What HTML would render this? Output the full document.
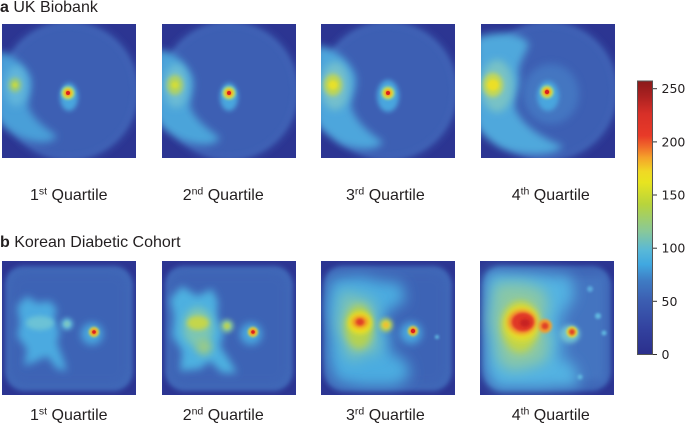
<!DOCTYPE html>
<html><head><meta charset="utf-8"><style>
html,body{margin:0;padding:0;background:#fff;width:685px;height:423px;overflow:hidden}
svg{display:block}
.t{font-family:"Liberation Sans",Arial,sans-serif;fill:#231f20}
.c{font-family:"DejaVu Sans","Liberation Sans",sans-serif;fill:#231f20;font-size:12.5px}
</style></head><body>
<svg width="685" height="423" viewBox="0 0 685 423" xmlns="http://www.w3.org/2000/svg">
<defs>
<clipPath id="cp"><rect width="134" height="134"/></clipPath>
<filter id="f1" x="-50%" y="-50%" width="200%" height="200%"><feGaussianBlur stdDeviation="1.2"/></filter>
<filter id="f2" x="-50%" y="-50%" width="200%" height="200%"><feGaussianBlur stdDeviation="2.5"/></filter>
<filter id="f3" x="-50%" y="-50%" width="200%" height="200%"><feGaussianBlur stdDeviation="4"/></filter>
<filter id="f4" x="-50%" y="-50%" width="200%" height="200%"><feGaussianBlur stdDeviation="7"/></filter>
<linearGradient id="cb" x1="0" y1="0" x2="0" y2="1">
<stop offset="0" stop-color="#8b1a1a"/><stop offset="0.05" stop-color="#a82020"/>
<stop offset="0.12" stop-color="#d83028"/><stop offset="0.2" stop-color="#e83a28"/>
<stop offset="0.24" stop-color="#f06a2a"/><stop offset="0.28" stop-color="#f5a22a"/>
<stop offset="0.33" stop-color="#f0d825"/><stop offset="0.37" stop-color="#e8e420"/>
<stop offset="0.45" stop-color="#b8d43c"/><stop offset="0.55" stop-color="#88c89a"/>
<stop offset="0.62" stop-color="#58b8d8"/><stop offset="0.67" stop-color="#40a8e0"/>
<stop offset="0.73" stop-color="#3f7cc4"/><stop offset="0.8" stop-color="#3c5fb2"/>
<stop offset="0.9" stop-color="#3343a0"/><stop offset="1" stop-color="#2b2f8c"/>
</linearGradient>
<g id="bgA">
<rect width="134" height="134" fill="#2c3592"/>
<circle cx="67" cy="67" r="70" fill="#3c5eb3" filter="url(#f3)"/>
<circle cx="67" cy="67" r="66" fill="none" stroke="#4670bf" stroke-width="4" opacity="0.45" filter="url(#f2)"/>
</g>
<g id="bgB">
<rect width="134" height="134" fill="#2c3592"/>
<path d="M20,5 H114 Q128,7 131,22 V112 Q129,127 114,130 H20 Q5,127 3,112 V22 Q5,7 20,5 Z" fill="#4068b8" filter="url(#f2)"/>
<path d="M22,12 H112 Q123,14 125,25 V109 Q123,121 112,123 H22 Q11,121 9,109 V25 Q11,14 22,12 Z" fill="#3c62b4" opacity="0.7" filter="url(#f3)"/>
</g>
</defs>

<text class="t" x="0" y="12" font-size="16"><tspan font-weight="bold">a</tspan> UK Biobank</text>
<text class="t" x="0" y="247" font-size="16"><tspan font-weight="bold">b</tspan> Korean Diabetic Cohort</text>

<!-- a1 -->
<g transform="translate(2,24)" clip-path="url(#cp)">
<use href="#bgA"/>
<path d="M-5,28 C8,28 22,40 28,52 C32,62 26,74 26,82 C30,95 45,105 55,112 C50,120 35,120 20,114 C8,108 -5,100 -5,90 Z" fill="#4a9fd8" filter="url(#f3)"/>
<ellipse cx="14" cy="62" rx="11" ry="20" fill="#62b6da" filter="url(#f3)"/>
<ellipse cx="13" cy="61" rx="6" ry="7" fill="#a0cc70" filter="url(#f2)"/>
<circle cx="13" cy="61" r="2.5" fill="#c4d844" filter="url(#f1)"/>
<ellipse cx="67" cy="73" rx="9" ry="14" fill="#4aa6de" filter="url(#f2)"/>
<circle cx="66" cy="69" r="7" fill="#8ccca0" filter="url(#f1)"/>
<circle cx="66" cy="69" r="5" fill="#f0e020" filter="url(#f1)"/>
<circle cx="66" cy="69" r="3" fill="#f07a28" filter="url(#f1)"/>
<circle cx="66" cy="69" r="2" fill="#d82020"/>
</g>
<!-- a2 -->
<g transform="translate(162,24)" clip-path="url(#cp)">
<use href="#bgA"/>
<path d="M-5,26 C10,26 24,38 30,52 C34,62 28,74 28,82 C32,96 48,106 58,114 C52,123 36,122 20,116 C8,110 -5,102 -5,92 Z" fill="#4ca4da" filter="url(#f3)"/>
<ellipse cx="14" cy="62" rx="12" ry="22" fill="#6cbcd4" filter="url(#f3)"/>
<ellipse cx="13" cy="61" rx="8" ry="10" fill="#b0d262" filter="url(#f2)"/>
<circle cx="13" cy="61" r="3.5" fill="#d0dc3a" filter="url(#f1)"/>
<ellipse cx="67" cy="73" rx="9" ry="14" fill="#4aa6de" filter="url(#f2)"/>
<circle cx="67" cy="69" r="7" fill="#8ccca0" filter="url(#f1)"/>
<circle cx="67" cy="69" r="5" fill="#f0e020" filter="url(#f1)"/>
<circle cx="67" cy="69" r="3" fill="#f07a28" filter="url(#f1)"/>
<circle cx="67" cy="69" r="2" fill="#d82020"/>
</g>
<!-- a3 -->
<g transform="translate(321,24)" clip-path="url(#cp)">
<use href="#bgA"/>
<path d="M-5,22 C12,22 28,36 34,50 C38,62 30,74 30,82 C34,98 50,110 62,118 C55,128 36,126 20,120 C8,112 -5,104 -5,94 Z" fill="#4ea6dc" filter="url(#f3)"/>
<ellipse cx="14" cy="62" rx="14" ry="24" fill="#74c0cc" filter="url(#f3)"/>
<ellipse cx="12" cy="61" rx="9" ry="11" fill="#c0d652" filter="url(#f2)"/>
<circle cx="12" cy="61" r="4.5" fill="#e6e02a" filter="url(#f1)"/>
<ellipse cx="67" cy="72" rx="11" ry="16" fill="#4aa6de" filter="url(#f2)"/>
<circle cx="67" cy="69" r="7" fill="#8ccca0" filter="url(#f1)"/>
<circle cx="67" cy="69" r="5" fill="#f0e020" filter="url(#f1)"/>
<circle cx="67" cy="69" r="3" fill="#f07a28" filter="url(#f1)"/>
<circle cx="67" cy="69" r="2" fill="#d82020"/>
</g>
<!-- a4 -->
<g transform="translate(481,24)" clip-path="url(#cp)">
<use href="#bgA"/>
<ellipse cx="70" cy="70" rx="28" ry="30" fill="#4680c8" opacity="0.7" filter="url(#f3)"/>
<path d="M-5,14 C15,6 40,8 48,20 C44,32 36,40 38,52 C40,62 32,74 34,84 C40,100 60,114 82,122 C72,134 40,132 20,124 C6,116 -5,106 -5,96 Z" fill="#50a8dc" filter="url(#f3)"/>
<ellipse cx="16" cy="62" rx="16" ry="26" fill="#78c2c6" filter="url(#f3)"/>
<ellipse cx="12" cy="61" rx="10" ry="12" fill="#c6d852" filter="url(#f2)"/>
<circle cx="12" cy="61" r="5.5" fill="#ecdf28" filter="url(#f1)"/>
<ellipse cx="67" cy="72" rx="11" ry="15" fill="#4aa6de" filter="url(#f2)"/>
<circle cx="66" cy="68" r="7" fill="#8ccca0" filter="url(#f1)"/>
<circle cx="66" cy="68" r="5" fill="#f0e020" filter="url(#f1)"/>
<circle cx="66" cy="68" r="3.2" fill="#f07a28" filter="url(#f1)"/>
<circle cx="66" cy="68" r="2.2" fill="#d82020"/>
</g>

<!-- b1 -->
<g transform="translate(2,261)" clip-path="url(#cp)">
<use href="#bgB"/>
<path d="M25,35 L35,42 L48,40 L55,48 L52,58 L58,70 L55,82 L62,100 L65,110 L55,108 L45,95 L35,100 L22,105 L25,88 L15,75 L18,62 L15,45 Z" fill="#4caae0" filter="url(#f3)"/>
<ellipse cx="38" cy="62" rx="14" ry="7" fill="#6cc2d6" filter="url(#f2)"/>
<circle cx="65" cy="63" r="6" fill="#5eb8da" filter="url(#f2)"/>
<circle cx="65" cy="63" r="3" fill="#7cc6c4" filter="url(#f1)"/>
<ellipse cx="90" cy="73" rx="11" ry="11" fill="#4aa6de" filter="url(#f3)"/>
<circle cx="92" cy="71" r="5" fill="#e8e030" filter="url(#f1)"/>
<circle cx="92" cy="71" r="3" fill="#f07028" filter="url(#f1)"/>
<circle cx="92" cy="71" r="1.8" fill="#d82020"/>
</g>
<!-- b2 -->
<g transform="translate(162,261)" clip-path="url(#cp)">
<use href="#bgB"/>
<path d="M20,25 L35,35 L50,28 L56,40 L55,55 L62,72 L58,85 L68,100 L75,112 L60,112 L48,100 L38,108 L18,110 L20,90 L10,75 L12,55 L8,38 Z" fill="#4eb0e0" filter="url(#f3)"/>
<ellipse cx="36" cy="66" rx="15" ry="20" fill="#7cc6b4" filter="url(#f3)"/>
<ellipse cx="42" cy="86" rx="8" ry="8" fill="#98ca88" filter="url(#f3)"/>
<ellipse cx="36" cy="62" rx="11" ry="7" fill="#c4d64c" filter="url(#f2)"/>
<circle cx="65" cy="65" r="6.5" fill="#88c89c" filter="url(#f2)"/>
<circle cx="65" cy="65" r="3" fill="#b8d258" filter="url(#f1)"/>
<ellipse cx="89" cy="73" rx="11" ry="11" fill="#4aa6de" filter="url(#f3)"/>
<circle cx="91" cy="71" r="5" fill="#e8e030" filter="url(#f1)"/>
<circle cx="91" cy="71" r="3" fill="#f07028" filter="url(#f1)"/>
<circle cx="91" cy="71" r="1.8" fill="#d82020"/>
</g>
<!-- b3 -->
<g transform="translate(321,261)" clip-path="url(#cp)">
<use href="#bgB"/>
<path d="M10,18 L40,15 L60,20 L80,22 L85,40 L70,48 L62,58 L70,75 L68,90 L85,100 L90,115 L75,125 L40,125 L15,120 L8,100 L8,70 L5,45 Z" fill="#4cace0" filter="url(#f4)"/>
<path d="M20,30 L38,35 L50,38 L55,50 L52,65 L58,80 L55,95 L45,90 L35,100 L25,95 L22,80 L15,65 L18,50 Z" fill="#7ec4b4" filter="url(#f4)"/>
<ellipse cx="38" cy="66" rx="14" ry="22" fill="#b6d250" filter="url(#f3)"/>
<ellipse cx="39" cy="62" rx="12" ry="11" fill="#ece022" filter="url(#f2)"/>
<ellipse cx="39" cy="61" rx="8" ry="6" fill="#f08a28" filter="url(#f2)"/>
<ellipse cx="39" cy="61" rx="4" ry="3.5" fill="#e04028" filter="url(#f1)"/>
<circle cx="65" cy="64" r="6.5" fill="#c8d848" filter="url(#f2)"/>
<circle cx="65" cy="64" r="3" fill="#f0c030" filter="url(#f1)"/>
<ellipse cx="90" cy="72" rx="11" ry="11" fill="#4aa6de" filter="url(#f3)"/>
<circle cx="92" cy="70" r="5" fill="#e8e030" filter="url(#f1)"/>
<circle cx="92" cy="70" r="3.2" fill="#f07028" filter="url(#f1)"/>
<circle cx="92" cy="70" r="2.2" fill="#d82020"/>
<circle cx="116" cy="76" r="2" fill="#60b8e0" filter="url(#f1)"/>
</g>
<!-- b4 -->
<g transform="translate(480,261)" clip-path="url(#cp)">
<use href="#bgB"/>
<rect x="80" y="15" width="45" height="105" fill="#4a80c8" opacity="0.6" filter="url(#f3)"/>
<path d="M8,10 L60,12 L90,15 L95,35 L85,50 L80,60 L85,80 L80,95 L95,105 L100,125 L60,128 L15,128 L5,110 L5,20 Z" fill="#52b2e2" filter="url(#f4)"/>
<path d="M15,22 L45,22 L65,30 L68,48 L62,60 L70,78 L66,100 L50,106 L30,110 L18,100 L15,80 L10,60 Z" fill="#8ac8a6" filter="url(#f4)"/>
<ellipse cx="40" cy="66" rx="18" ry="26" fill="#c0d44c" filter="url(#f3)"/>
<ellipse cx="42" cy="62" rx="17" ry="17" fill="#f0e020" filter="url(#f3)"/>
<ellipse cx="42" cy="61" rx="14" ry="12" fill="#f08030" filter="url(#f2)"/>
<ellipse cx="43" cy="61" rx="11" ry="9" fill="#e03828" filter="url(#f1)"/>
<ellipse cx="45" cy="62" rx="5" ry="4" fill="#c82020" filter="url(#f1)"/>
<circle cx="65" cy="65" r="7" fill="#f0a030" filter="url(#f1)"/>
<circle cx="65" cy="65" r="3.5" fill="#e04028" filter="url(#f1)"/>
<ellipse cx="90" cy="73" rx="10" ry="9" fill="#70c0d0" filter="url(#f2)"/>
<circle cx="92" cy="71" r="5.5" fill="#e8e030" filter="url(#f1)"/>
<circle cx="92" cy="71" r="3.2" fill="#e04028" filter="url(#f1)"/>
<circle cx="118" cy="55" r="3" fill="#60b8e0" filter="url(#f1)"/>
<circle cx="124" cy="72" r="2.5" fill="#60b8e0" filter="url(#f1)"/>
<circle cx="100" cy="116" r="2.5" fill="#60b8e0" filter="url(#f1)"/>
<circle cx="110" cy="28" r="3" fill="#5aa8dc" filter="url(#f1)"/>
</g>

<!-- labels -->
<g class="t" font-size="16">
<text x="30" y="200">1<tspan font-size="10.5" dy="-5.5">st</tspan><tspan dy="5.5"> Quartile</tspan></text>
<text x="182.7" y="200">2<tspan font-size="10.5" dy="-5.5">nd</tspan><tspan dy="5.5"> Quartile</tspan></text>
<text x="346" y="200">3<tspan font-size="10.5" dy="-5.5">rd</tspan><tspan dy="5.5"> Quartile</tspan></text>
<text x="511.7" y="200">4<tspan font-size="10.5" dy="-5.5">th</tspan><tspan dy="5.5"> Quartile</tspan></text>
<text x="30" y="420">1<tspan font-size="10.5" dy="-5.5">st</tspan><tspan dy="5.5"> Quartile</tspan></text>
<text x="182.7" y="420">2<tspan font-size="10.5" dy="-5.5">nd</tspan><tspan dy="5.5"> Quartile</tspan></text>
<text x="346" y="420">3<tspan font-size="10.5" dy="-5.5">rd</tspan><tspan dy="5.5"> Quartile</tspan></text>
<text x="511.7" y="420">4<tspan font-size="10.5" dy="-5.5">th</tspan><tspan dy="5.5"> Quartile</tspan></text>
</g>

<!-- colorbar -->
<rect x="637.5" y="81" width="15" height="273.5" fill="url(#cb)" stroke="#555" stroke-width="1"/>
<g stroke="#333" stroke-width="1">
<line x1="653" y1="354.5" x2="657" y2="354.5"/>
<line x1="653" y1="301.3" x2="657" y2="301.3"/>
<line x1="653" y1="248.2" x2="657" y2="248.2"/>
<line x1="653" y1="195" x2="657" y2="195"/>
<line x1="653" y1="141.9" x2="657" y2="141.9"/>
<line x1="653" y1="88.7" x2="657" y2="88.7"/>
</g>
<text class="c" x="661.5" y="359">0</text>
<text class="c" x="661.5" y="305.8">50</text>
<text class="c" x="661.5" y="252.7">100</text>
<text class="c" x="661.5" y="199.5">150</text>
<text class="c" x="661.5" y="146.4">200</text>
<text class="c" x="661.5" y="93.2">250</text>
</svg>
</body></html>
